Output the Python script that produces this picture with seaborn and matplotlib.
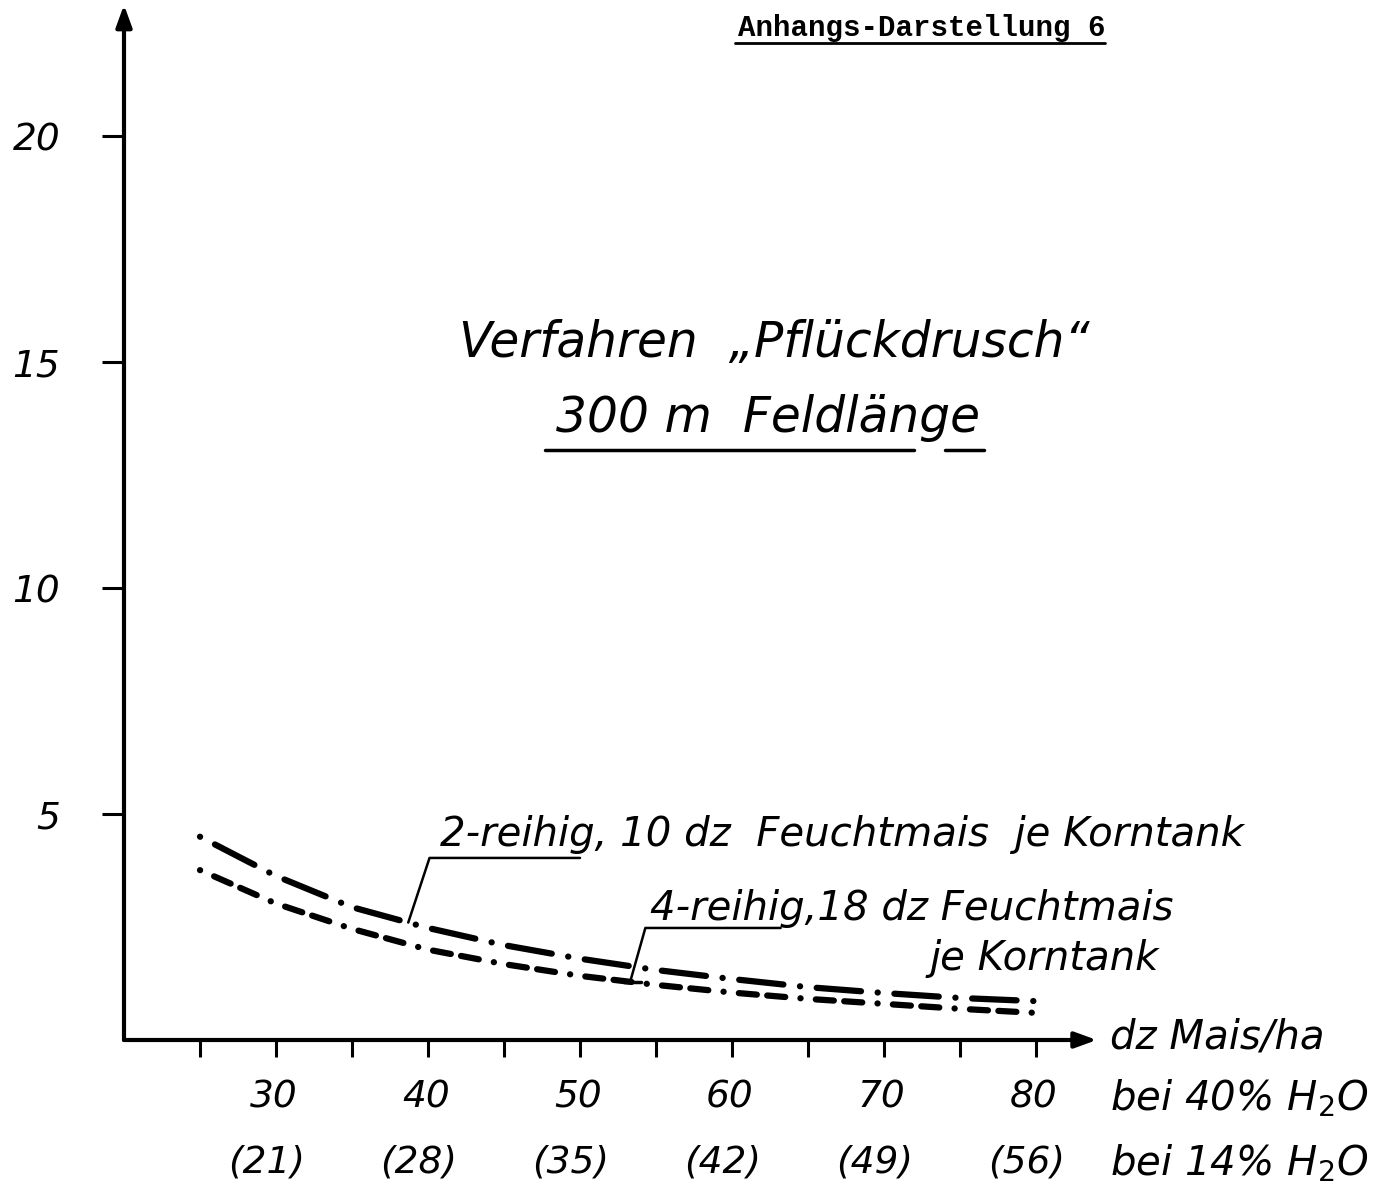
import numpy as np
import pandas as pd
import matplotlib
matplotlib.use("Agg")
import matplotlib.pyplot as plt
import seaborn as sns

# Ertrag (dz Mais/ha bei 40 % H2O) und zugehoerige Werte der beiden Verfahren
ertrag = [25, 30, 35, 40, 45, 50, 55, 60, 65, 70, 75, 80]
zweireihig = [4.50, 3.63, 2.94, 2.48, 2.10, 1.80, 1.55, 1.35, 1.17, 1.04, 0.93, 0.86]
vierreihig = [3.76, 3.02, 2.46, 2.00, 1.68, 1.42, 1.22, 1.05, 0.91, 0.80, 0.69, 0.60]

y_ticks = [5, 10, 15, 20]
x_ticks = [25, 30, 35, 40, 45, 50, 55, 60, 65, 70, 75, 80]
x_labels_40 = ["30", "40", "50", "60", "70", "80"]
x_labels_14 = ["(21)", "(28)", "(35)", "(42)", "(49)", "(56)"]
x_label_pos = [30, 40, 50, 60, 70, 80]

df = pd.DataFrame({
    "Ertrag": ertrag * 2,
    "Wert": zweireihig + vierreihig,
    "Verfahren": ["2-reihig"] * len(ertrag) + ["4-reihig"] * len(ertrag),
})

sns.set_theme(style="white")
plt.rcParams["font.family"] = ["DejaVu Sans"]
plt.rcParams["lines.scale_dashes"] = False
plt.rcParams["axes.unicode_minus"] = False
plt.rcParams["mathtext.fontset"] = "dejavusans"
plt.rcParams["mathtext.default"] = "it"

fig = plt.figure(figsize=(13.94, 11.92), dpi=100)
fig.patch.set_facecolor("white")
ax = fig.add_axes([124 / 1394, 152 / 1192, 972.8 / 1394, 1030 / 1192])
ax.set_facecolor("white")

sns.lineplot(
    data=df, x="Ertrag", y="Wert", style="Verfahren",
    dashes={"2-reihig": (0.1, 12.0, 32.0, 12.0),
            "4-reihig": (0.1, 11.0, 13.0, 7.5, 13.0, 11.0)},
    color="black", lw=4.5, legend=False, ax=ax,
    dash_capstyle="round", solid_capstyle="round",
)

ax.set_xlim(20, 84)
ax.set_ylim(0, 22.8)
ax.set_xlabel("")
ax.set_ylabel("")

# Achsen als Pfeile
for side in ["top", "right", "left", "bottom"]:
    ax.spines[side].set_visible(False)
arrow = dict(arrowstyle="-|>,head_length=1.1,head_width=0.4", color="black",
             lw=3, shrinkA=0, shrinkB=0)
ax.annotate("", xy=(0, 1.005), xytext=(0, 0), xycoords="axes fraction",
            arrowprops=arrow, annotation_clip=False)
ax.annotate("", xy=(1.0, 0), xytext=(0, 0), xycoords="axes fraction",
            arrowprops=arrow, annotation_clip=False)

ax.set_yticks(y_ticks)
ax.set_yticklabels([str(v) for v in y_ticks])
ax.set_xticks(x_ticks)
ax.set_xticklabels([""] * len(x_ticks))
ax.tick_params(axis="y", direction="out", length=16, width=2.2, pad=30,
               labelsize=27, left=True, colors="black")
ax.tick_params(axis="x", direction="out", length=12, width=2.2,
               bottom=True, colors="black")
for lab in ax.get_yticklabels():
    lab.set_fontstyle("italic")

lab_kw = dict(fontsize=27, fontstyle="italic", color="black", clip_on=False)
for xv, l40, l14 in zip(x_label_pos, x_labels_40, x_labels_14):
    ax.text(xv - 0.15, -1.28, l40, ha="center", va="center", **lab_kw)
    ax.text(xv - 0.6, -2.72, l14, ha="center", va="center", **lab_kw)

side_kw = dict(fontsize=29, fontstyle="italic", color="black", clip_on=False)
ax.text(84.9, 0.07, "dz Mais/ha", ha="left", va="center", **side_kw)
ax.text(84.9, -1.28, "bei 40% H$_2$O", ha="left", va="center", **side_kw)
ax.text(84.9, -2.72, "bei 14% H$_2$O", ha="left", va="center", **side_kw)

# Titel
ax.text(62.8, 15.42, "Verfahren  „Pflückdrusch“", ha="center", va="center",
        fontsize=35, fontstyle="italic", color="black")
ax.text(62.4, 13.76, "300 m  Feldlänge", ha="center", va="center",
        fontsize=35, fontstyle="italic", color="black")
ax.plot([47.7, 72.0], [13.07, 13.07], color="black", lw=2.5, clip_on=False)
ax.plot([74.0, 76.6], [13.07, 13.07], color="black", lw=2.5, clip_on=False)

# Beschriftung der Kurven mit Hinweislinien
ann_kw = dict(fontsize=29, fontstyle="italic", color="black", va="center", ha="left")
ax.text(40.8, 4.54, "2-reihig, 10 dz  Feuchtmais  je Korntank", **ann_kw)
ax.text(54.6, 2.92, "4-reihig,18 dz Feuchtmais", **ann_kw)
ax.text(73.0, 1.81, "je Korntank", **ann_kw)

x2 = 38.7
y2 = np.interp(x2, ertrag, zweireihig)
ax.plot([x2, 40.1, 50.0], [y2, 4.03, 4.03], color="black", lw=1.8)
x4 = 53.3
y4 = np.interp(x4, ertrag, vierreihig)
ax.plot([x4, 54.3, 63.2], [y4, 2.48, 2.48], color="black", lw=1.8)
ax.plot([x4 - 0.4, x4 + 0.7], [y4, y4], color="black", lw=2.5)

# Kopfzeile
fig.text(738 / 1394, 1 - 28 / 1192, "Anhangs-Darstellung 6", ha="left", va="center",
         family="Liberation Mono", fontweight="bold", fontsize=21, color="black")
fig.add_artist(matplotlib.lines.Line2D([735 / 1394, 1105 / 1394],
                                       [1 - 43 / 1192, 1 - 43 / 1192],
                                       color="black", lw=2))

fig.savefig("out.png", dpi=100, facecolor="white")
